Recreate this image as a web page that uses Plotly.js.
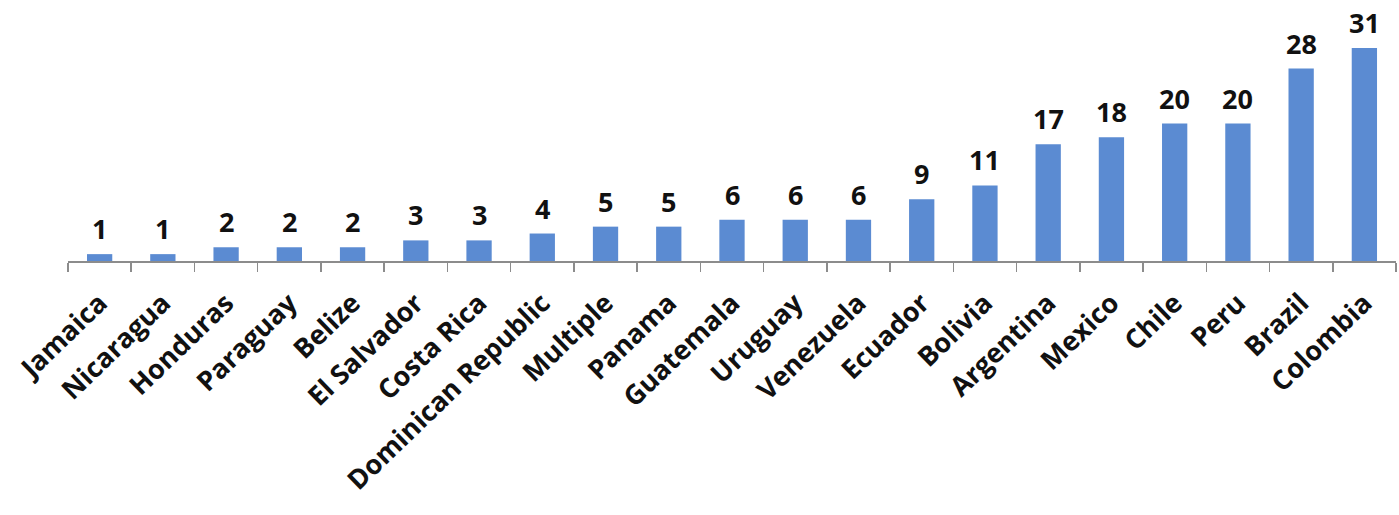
<!DOCTYPE html>
<html>
<head>
<meta charset="utf-8">
<script src="https://cdn.plot.ly/plotly-3.0.1.min.js"></script>
<style>html,body{margin:0;padding:0;background:#fff;}#chart{width:1399px;height:515px;}</style>
</head>
<body>
<div id="chart"></div>
<script>
const countries = ["Jamaica","Nicaragua","Honduras","Paraguay","Belize","El Salvador","Costa Rica","Dominican Republic","Multiple","Panama","Guatemala","Uruguay","Venezuela","Ecuador","Bolivia","Argentina","Mexico","Chile","Peru","Brazil","Colombia"];
const counts = [1,1,2,2,2,3,3,4,5,5,6,6,6,9,11,17,18,20,20,28,31];

const FONT = "'Open Sans', Lato, sans-serif";
const trace = {
  type: 'bar',
  x: countries,
  y: counts,
  marker: {color: '#5b8bd2'},
  hoverinfo: 'x+y'
};
const annotations = countries.map((c, i) => ({
  x: c, y: counts[i], xref: 'x', yref: 'y',
  text: String(counts[i]), showarrow: false,
  yanchor: 'bottom', yshift: 5,
  font: {family: FONT, size: 27, color: '#111', weight: 700}
}));
const layout = {
  width: 1399, height: 515,
  margin: {l: 68, r: 3, t: 48, b: 254},
  paper_bgcolor: '#fff', plot_bgcolor: '#fff',
  showlegend: false,
  bargap: 0.6,
  xaxis: {
    type: 'category',
    showline: true, linecolor: '#8c8c8c', linewidth: 1.5,
    ticks: 'outside', tickson: 'boundaries', ticklen: 9, tickcolor: '#8c8c8c', tickwidth: 1.5,
    tickangle: -44,
    ticklabelstandoff: 14,
    tickfont: {family: FONT, size: 27, color: '#111', weight: 700},
    showgrid: false, zeroline: false
  },
  yaxis: {
    range: [0, 31], visible: false, showgrid: false, zeroline: false
  },
  annotations: annotations
};
Plotly.newPlot('chart', [trace], layout, {displayModeBar: false, staticPlot: true});
</script>
</body>
</html>
